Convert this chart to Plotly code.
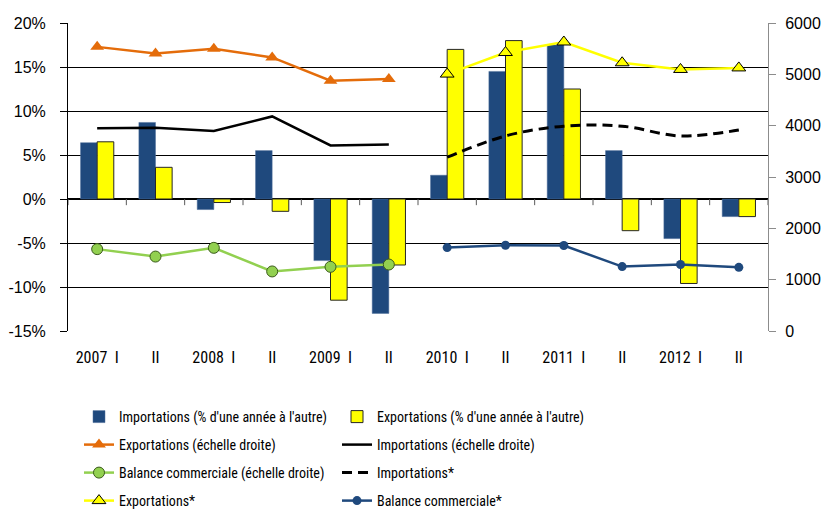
import plotly.graph_objects as go

categories = ["2007  I", "II", "2008  I", "II", "2009  I", "II",
              "2010  I", "II", "2011  I", "II", "2012  I", "II"]

imports_pct = [6.4, 8.7, -1.2, 5.5, -7.0, -13.0, 2.7, 14.5, 17.5, 5.5, -4.5, -2.0]
exports_pct = [6.5, 3.6, -0.4, -1.4, -11.5, -7.5, 17.0, 18.0, 12.5, -3.6, -9.6, -2.0]

exports_level = [5535, 5405, 5500, 5330, 4875, 4910, None, None, None, None, None, None]
imports_level = [3950, 3960, 3895, 4180, 3615, 3635, None, None, None, None, None, None]
balance_level = [1595, 1450, 1620, 1160, 1250, 1295, None, None, None, None, None, None]

imports_proj = [None, None, None, None, None, None, 3385, 3800, 3990, 3990, 3800, 3915]
exports_proj = [None, None, None, None, None, None, 5005, 5425, 5630, 5225, 5095, 5125]
balance_proj = [None, None, None, None, None, None, 1625, 1670, 1665, 1255, 1295, 1240]

left_ticks = [-15, -10, -5, 0, 5, 10, 15, 20]
left_ticktext = ["-15%", "-10%", "-5%", "0%", "5%", "10%", "15%", "20%"]
right_ticks = [0, 1000, 2000, 3000, 4000, 5000, 6000]

NAVY = "#1F497D"
YELLOW = "#FFFF00"
ORANGE = "#E46C0A"
GREEN = "#92D050"

x = list(range(len(categories)))

NARROW = "Liberation Sans Narrow, Arial Narrow, Roboto Condensed, DejaVu Sans Condensed, Liberation Sans, sans-serif"
WIDE = "Liberation Sans, Arial, sans-serif"

fig = go.Figure()

fig.add_trace(go.Bar(x=x, y=imports_pct, name="Importations (% d'une année à l'autre)",
                     marker=dict(color=NAVY, line=dict(color="#4F6E9A", width=0.5)),
                     legend="legend"))
fig.add_trace(go.Bar(x=x, y=exports_pct, name="Exportations (% d'une année à l'autre)",
                     marker=dict(color=YELLOW, line=dict(color="#262626", width=1)),
                     legend="legend"))

fig.add_trace(go.Scatter(x=x, y=exports_level, yaxis="y2", name="Exportations (échelle droite)",
                         mode="lines+markers", line=dict(color=ORANGE, width=2.5),
                         marker=dict(symbol="triangle-up", size=12, color=ORANGE),
                         legend="legend2"))
fig.add_trace(go.Scatter(x=x, y=imports_level, yaxis="y2", name="Importations (échelle droite)",
                         mode="lines", line=dict(color="black", width=2.5),
                         legend="legend2"))

fig.add_trace(go.Scatter(x=x, y=balance_level, yaxis="y2", name="Balance commerciale (échelle droite)",
                         mode="lines+markers", line=dict(color=GREEN, width=2.5),
                         marker=dict(symbol="circle", size=11, color=GREEN,
                                     line=dict(color="#3A5A1A", width=1)),
                         legend="legend3"))
fig.add_trace(go.Scatter(x=x, y=imports_proj, yaxis="y2", name="Importations*",
                         mode="lines", line=dict(color="black", width=3, dash="10px,6px", shape="spline"),
                         legend="legend3"))

fig.add_trace(go.Scatter(x=x, y=exports_proj, yaxis="y2", name="Exportations*",
                         mode="lines+markers", line=dict(color=YELLOW, width=2.5),
                         marker=dict(symbol="triangle-up", size=12, color=YELLOW,
                                     line=dict(color="black", width=1)),
                         legend="legend4"))
fig.add_trace(go.Scatter(x=x, y=balance_proj, yaxis="y2", name="Balance commerciale*",
                         mode="lines+markers", line=dict(color=NAVY, width=2.5),
                         marker=dict(symbol="circle", size=9, color=NAVY),
                         legend="legend4"))

# small category tick marks below the zero line
for i in range(len(categories) + 1):
    fig.add_shape(type="line", xref="x", yref="y", x0=i - 0.5, x1=i - 0.5, y0=0, y1=-0.7,
                  line=dict(color="#595959", width=1))

W, HH = 823, 509
legend_common = dict(orientation="h", entrywidth=213, entrywidthmode="pixels",
                     font=dict(family=NARROW, size=14, color="black"),
                     bgcolor="rgba(0,0,0,0)", xanchor="left", yanchor="middle",
                     xref="container", yref="container",
                     itemclick=False, itemdoubleclick=False)
rows_y = [417, 445, 473, 501]


def cy(pix):
    return 1 - pix / HH


lx = 79 / W

fig.update_layout(
    width=W, height=HH,
    margin=dict(l=68, r=55, t=23, b=178),
    paper_bgcolor="white", plot_bgcolor="white",
    barmode="group", bargap=0.43, bargroupgap=0,
    showlegend=True,
    legend=dict(**legend_common, x=lx, y=cy(rows_y[0])),
    legend2=dict(**legend_common, x=lx, y=cy(rows_y[1])),
    legend3=dict(**legend_common, x=lx, y=cy(rows_y[2])),
    legend4=dict(**legend_common, x=lx, y=cy(rows_y[3])),
    xaxis=dict(range=[-0.5, 11.5], tickmode="array", tickvals=x, ticktext=categories,
               showgrid=False, zeroline=False, showline=False, ticks="", automargin=False,
               tickfont=dict(family=NARROW, size=16, color="black"),
               ticklabelstandoff=15),
    yaxis=dict(range=[-15, 20], tickmode="array", tickvals=left_ticks, ticktext=left_ticktext,
               showgrid=True, gridcolor="black", gridwidth=1, automargin=False,
               zeroline=True, zerolinecolor="black", zerolinewidth=2,
               showline=True, linecolor="black", linewidth=1,
               ticks="outside", ticklen=7, tickcolor="black",
               tickfont=dict(family=WIDE, size=16, color="black"),
               ticklabelstandoff=11),
    yaxis2=dict(range=[0, 6000], overlaying="y", side="right", tickmode="array",
                tickvals=right_ticks, showgrid=False, zeroline=False, automargin=False,
                showline=True, linecolor="#8C8C8C", linewidth=1,
                ticks="outside", ticklen=7, tickcolor="#8C8C8C",
                tickfont=dict(family=WIDE, size=16, color="black"),
                ticklabelstandoff=6),
)

fig.write_html("out.html", config={"displayModeBar": False},
               post_script="document.body.style.margin='0';document.body.style.overflow='hidden';")
